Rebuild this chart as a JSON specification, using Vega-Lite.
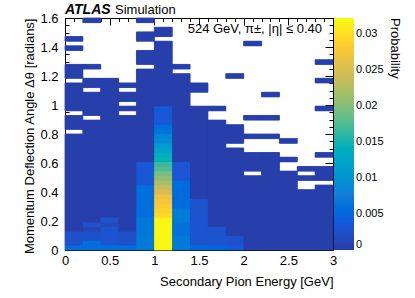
{
  "$schema": "https://vega.github.io/schema/vega-lite/v6.json",
  "width": 268,
  "height": 232,
  "autosize": {"type": "none"},
  "padding": {"left": 65, "top": 18, "right": 82, "bottom": 48},
  "background": "white",
  "config": {
    "font": "Liberation Sans",
    "view": {"stroke": "black", "strokeWidth": 1},
    "axis": {"domainColor": "black", "tickColor": "black", "labelColor": "black", "titleColor": "black", "grid": false, "labelFont": "Liberation Sans", "titleFont": "Liberation Sans", "labelFontSize": 13, "titleFontSize": 13, "titleFontWeight": "normal", "minExtent": 0, "labelFlush": false, "tickWidth": 1, "domainWidth": 1},
    "legend": {"orient": "right", "offset": 0, "padding": 0, "gradientLength": 232, "gradientThickness": 20, "gradientStrokeWidth": 0, "labelFontSize": 11, "labelOffset": 4, "labelFont": "Liberation Sans", "labelColor": "black", "titleFont": "Liberation Sans", "titleFontSize": 13, "titleFontWeight": "normal", "titleColor": "black", "titleOrient": "right", "titleAngle": 270, "titleAnchor": "end", "titlePadding": 4}
  },
  "datasets": {
    "h": [
      {"e0":0,"e1":0.2,"t0":0,"t1":0.032,"p":0.0058},
      {"e0":0,"e1":0.2,"t0":0.032,"t1":0.128,"p":0.0026},
      {"e0":0,"e1":0.2,"t0":0.128,"t1":0.8,"p":0.0003},
      {"e0":0,"e1":0.2,"t0":0.832,"t1":0.928,"p":0.0003},
      {"e0":0,"e1":0.2,"t0":0.96,"t1":1.152,"p":0.0003},
      {"e0":0,"e1":0.2,"t0":1.184,"t1":1.28,"p":0.0003},
      {"e0":0,"e1":0.2,"t0":1.376,"t1":1.408,"p":0.0003},
      {"e0":0,"e1":0.2,"t0":1.44,"t1":1.472,"p":0.0003},
      {"e0":0.2,"e1":0.4,"t0":0,"t1":0.064,"p":0.0058},
      {"e0":0.2,"e1":0.4,"t0":0.064,"t1":0.128,"p":0.0028},
      {"e0":0.2,"e1":0.4,"t0":0.128,"t1":0.16,"p":0.0012},
      {"e0":0.2,"e1":0.4,"t0":0.16,"t1":0.192,"p":0.0028},
      {"e0":0.2,"e1":0.4,"t0":0.192,"t1":0.896,"p":0.0003},
      {"e0":0.2,"e1":0.4,"t0":0.928,"t1":1.088,"p":0.0003},
      {"e0":0.2,"e1":0.4,"t0":1.12,"t1":1.184,"p":0.0003},
      {"e0":0.2,"e1":0.4,"t0":1.248,"t1":1.28,"p":0.0003},
      {"e0":0.2,"e1":0.4,"t0":1.568,"t1":1.6,"p":0.0003},
      {"e0":0.4,"e1":0.6,"t0":0,"t1":0.032,"p":0.0058},
      {"e0":0.4,"e1":0.6,"t0":0.032,"t1":0.16,"p":0.003},
      {"e0":0.4,"e1":0.6,"t0":0.16,"t1":0.192,"p":0.0016},
      {"e0":0.4,"e1":0.6,"t0":0.192,"t1":0.224,"p":0.003},
      {"e0":0.4,"e1":0.6,"t0":0.224,"t1":1.184,"p":0.0003},
      {"e0":0.6,"e1":0.8,"t0":0,"t1":0.032,"p":0.0058},
      {"e0":0.6,"e1":0.8,"t0":0.032,"t1":0.128,"p":0.0026},
      {"e0":0.6,"e1":0.8,"t0":0.128,"t1":0.928,"p":0.0003},
      {"e0":0.6,"e1":0.8,"t0":0.96,"t1":0.992,"p":0.0003},
      {"e0":0.6,"e1":0.8,"t0":1.024,"t1":1.088,"p":0.0003},
      {"e0":0.6,"e1":0.8,"t0":1.12,"t1":1.152,"p":0.0003},
      {"e0":0.8,"e1":1,"t0":0,"t1":0.096,"p":0.0074},
      {"e0":0.8,"e1":1,"t0":0.096,"t1":0.224,"p":0.0068},
      {"e0":0.8,"e1":1,"t0":0.224,"t1":0.448,"p":0.0058},
      {"e0":0.8,"e1":1,"t0":0.448,"t1":0.608,"p":0.0034},
      {"e0":0.8,"e1":1,"t0":0.608,"t1":1.248,"p":0.0003},
      {"e0":0.8,"e1":1,"t0":1.28,"t1":1.376,"p":0.0003},
      {"e0":0.8,"e1":1,"t0":1.44,"t1":1.504,"p":0.0003},
      {"e0":0.8,"e1":1,"t0":1.568,"t1":1.6,"p":0.0003},
      {"e0":1,"e1":1.2,"t0":0,"t1":0.224,"p":0.0318},
      {"e0":1,"e1":1.2,"t0":0.224,"t1":0.256,"p":0.0296},
      {"e0":1,"e1":1.2,"t0":0.256,"t1":0.288,"p":0.029},
      {"e0":1,"e1":1.2,"t0":0.288,"t1":0.32,"p":0.0282},
      {"e0":1,"e1":1.2,"t0":0.32,"t1":0.352,"p":0.0275},
      {"e0":1,"e1":1.2,"t0":0.352,"t1":0.384,"p":0.0266},
      {"e0":1,"e1":1.2,"t0":0.384,"t1":0.416,"p":0.0248},
      {"e0":1,"e1":1.2,"t0":0.416,"t1":0.448,"p":0.0238},
      {"e0":1,"e1":1.2,"t0":0.448,"t1":0.48,"p":0.022},
      {"e0":1,"e1":1.2,"t0":0.48,"t1":0.512,"p":0.0205},
      {"e0":1,"e1":1.2,"t0":0.512,"t1":0.544,"p":0.0193},
      {"e0":1,"e1":1.2,"t0":0.544,"t1":0.576,"p":0.0175},
      {"e0":1,"e1":1.2,"t0":0.576,"t1":0.608,"p":0.0165},
      {"e0":1,"e1":1.2,"t0":0.608,"t1":0.64,"p":0.015},
      {"e0":1,"e1":1.2,"t0":0.64,"t1":0.672,"p":0.0142},
      {"e0":1,"e1":1.2,"t0":0.672,"t1":0.704,"p":0.012},
      {"e0":1,"e1":1.2,"t0":0.704,"t1":0.736,"p":0.0112},
      {"e0":1,"e1":1.2,"t0":0.736,"t1":0.768,"p":0.0092},
      {"e0":1,"e1":1.2,"t0":0.768,"t1":0.8,"p":0.0086},
      {"e0":1,"e1":1.2,"t0":0.8,"t1":0.832,"p":0.0068},
      {"e0":1,"e1":1.2,"t0":0.832,"t1":0.864,"p":0.0058},
      {"e0":1,"e1":1.2,"t0":0.864,"t1":0.992,"p":0.0035},
      {"e0":1,"e1":1.2,"t0":0.992,"t1":1.44,"p":0.0003},
      {"e0":1,"e1":1.2,"t0":1.472,"t1":1.536,"p":0.0003},
      {"e0":1.2,"e1":1.4,"t0":0,"t1":0.096,"p":0.0072},
      {"e0":1.2,"e1":1.4,"t0":0.096,"t1":0.192,"p":0.0064},
      {"e0":1.2,"e1":1.4,"t0":0.192,"t1":0.288,"p":0.0074},
      {"e0":1.2,"e1":1.4,"t0":0.288,"t1":0.48,"p":0.0056},
      {"e0":1.2,"e1":1.4,"t0":0.48,"t1":0.608,"p":0.0032},
      {"e0":1.2,"e1":1.4,"t0":0.608,"t1":1.216,"p":0.0003},
      {"e0":1.2,"e1":1.4,"t0":1.248,"t1":1.28,"p":0.0003},
      {"e0":1.4,"e1":1.6,"t0":0,"t1":0.032,"p":0.0055},
      {"e0":1.4,"e1":1.6,"t0":0.032,"t1":0.352,"p":0.003},
      {"e0":1.4,"e1":1.6,"t0":0.352,"t1":0.992,"p":0.0003},
      {"e0":1.4,"e1":1.6,"t0":1.088,"t1":1.152,"p":0.0003},
      {"e0":1.6,"e1":1.8,"t0":0,"t1":0.032,"p":0.005},
      {"e0":1.6,"e1":1.8,"t0":0.032,"t1":0.16,"p":0.003},
      {"e0":1.6,"e1":1.8,"t0":0.16,"t1":0.896,"p":0.0003},
      {"e0":1.6,"e1":1.8,"t0":0.96,"t1":0.992,"p":0.0003},
      {"e0":1.8,"e1":2,"t0":0,"t1":0.032,"p":0.0038},
      {"e0":1.8,"e1":2,"t0":0.032,"t1":0.096,"p":0.0026},
      {"e0":1.8,"e1":2,"t0":0.096,"t1":0.704,"p":0.0003},
      {"e0":1.8,"e1":2,"t0":0.736,"t1":0.864,"p":0.0003},
      {"e0":1.8,"e1":2,"t0":1.184,"t1":1.216,"p":0.0003},
      {"e0":2,"e1":2.2,"t0":0,"t1":0.512,"p":0.0003},
      {"e0":2,"e1":2.2,"t0":0.544,"t1":0.672,"p":0.0003},
      {"e0":2,"e1":2.2,"t0":0.768,"t1":0.8,"p":0.0003},
      {"e0":2,"e1":2.2,"t0":0.896,"t1":0.928,"p":0.0003},
      {"e0":2,"e1":2.2,"t0":1.408,"t1":1.44,"p":0.0003},
      {"e0":2.2,"e1":2.4,"t0":0,"t1":0.672,"p":0.0003},
      {"e0":2.2,"e1":2.4,"t0":0.768,"t1":0.8,"p":0.0003},
      {"e0":2.2,"e1":2.4,"t0":0.896,"t1":0.928,"p":0.0003},
      {"e0":2.2,"e1":2.4,"t0":1.056,"t1":1.088,"p":0.0003},
      {"e0":2.4,"e1":2.6,"t0":0,"t1":0.544,"p":0.0003},
      {"e0":2.4,"e1":2.6,"t0":0.608,"t1":0.64,"p":0.0003},
      {"e0":2.4,"e1":2.6,"t0":0.736,"t1":0.768,"p":0.0003},
      {"e0":2.6,"e1":2.8,"t0":0,"t1":0.416,"p":0.0003},
      {"e0":2.6,"e1":2.8,"t0":0.48,"t1":0.512,"p":0.0003},
      {"e0":2.6,"e1":2.8,"t0":0.544,"t1":0.576,"p":0.0003},
      {"e0":2.8,"e1":3,"t0":0,"t1":0.448,"p":0.0003},
      {"e0":2.8,"e1":3,"t0":0.48,"t1":0.576,"p":0.0003},
      {"e0":2.8,"e1":3,"t0":0.64,"t1":0.672,"p":0.0003},
      {"e0":2.8,"e1":3,"t0":0.96,"t1":0.992,"p":0.0003},
      {"e0":2.8,"e1":3,"t0":1.152,"t1":1.184,"p":0.0003},
      {"e0":2.8,"e1":3,"t0":1.28,"t1":1.312,"p":0.0003}
    ]
  },
  "resolve": {"axis": {"x": "independent", "y": "independent"}},
  "layer": [
    {
      "data": {"name": "h"},
      "mark": {"type": "rect", "strokeWidth": 0.8, "stroke": {"expr": "scale('color', datum.p)"}},
      "encoding": {
        "x": {"field": "e0", "type": "quantitative", "scale": {"domain": [0, 3], "nice": false, "zero": false},
              "axis": {"orient": "bottom", "values": [0, 0.5, 1, 1.5, 2, 2.5, 3], "format": "~g", "tickSize": -7, "labelPadding": 11, "title": "Secondary Pion Energy [GeV]", "titleAnchor": "end", "titlePadding": 8}},
        "x2": {"field": "e1"},
        "y": {"field": "t0", "type": "quantitative", "scale": {"domain": [0, 1.6], "nice": false, "zero": false},
              "axis": {"orient": "left", "values": [0, 0.2, 0.4, 0.6, 0.8, 1, 1.2, 1.4, 1.6], "format": "~g", "tickSize": -8, "labelPadding": 15, "title": "Momentum Deflection Angle Δθ [radians]", "titleAnchor": "end", "titlePadding": 3}},
        "y2": {"field": "t1"},
        "color": {"field": "p", "type": "quantitative", "title": "Probability",
                  "scale": {"domain": [0, 0.0322], "range": ["#273da7", "#0f5cdd", "#1481d6", "#06a4ca", "#2eb7a4", "#87bf77", "#d1bb59", "#fec832", "#f9fb0e"]},
                  "legend": {"values": [0, 0.005, 0.01, 0.015, 0.02, 0.025, 0.03], "format": ".3~f", "direction": "vertical"}}
      }
    },
    {
      "data": {"name": "h"},
      "mark": {"type": "rect"},
      "encoding": {
        "x": {"field": "e0", "type": "quantitative", "axis": null},
        "x2": {"field": "e1"},
        "y": {"field": "t0", "type": "quantitative", "axis": null},
        "y2": {"field": "t1"},
        "color": {"field": "p", "type": "quantitative", "legend": null}
      }
    },
    {
      "data": {"values": [{}]},
      "mark": {"type": "point", "opacity": 0},
      "encoding": {
        "x": {"datum": 0, "type": "quantitative", "axis": {"orient": "bottom", "values": [0.1,0.2,0.3,0.4,0.6,0.7,0.8,0.9,1.1,1.2,1.3,1.4,1.6,1.7,1.8,1.9,2.1,2.2,2.3,2.4,2.6,2.7,2.8,2.9], "labels": false, "domain": false, "title": null, "tickSize": -3.5}},
        "y": {"datum": 0, "type": "quantitative", "axis": {"orient": "left", "values": [0.05,0.1,0.15,0.25,0.3,0.35,0.45,0.5,0.55,0.65,0.7,0.75,0.85,0.9,0.95,1.05,1.1,1.15,1.25,1.3,1.35,1.45,1.5,1.55], "labels": false, "domain": false, "title": null, "tickSize": -4}}
      }
    },
    {
      "data": {"values": [{}]},
      "mark": {"type": "point", "opacity": 0},
      "encoding": {
        "x": {"datum": 0, "type": "quantitative", "axis": {"orient": "top", "values": [0, 0.5, 1, 1.5, 2, 2.5, 3], "labels": false, "title": null, "tickSize": -7}},
        "y": {"datum": 0, "type": "quantitative", "axis": {"orient": "right", "values": [0, 0.2, 0.4, 0.6, 0.8, 1, 1.2, 1.4, 1.6], "labels": false, "title": null, "tickSize": -8}}
      }
    },
    {
      "data": {"values": [{}]},
      "mark": {"type": "point", "opacity": 0},
      "encoding": {
        "x": {"datum": 0, "type": "quantitative", "axis": {"orient": "top", "values": [0.1,0.2,0.3,0.4,0.6,0.7,0.8,0.9,1.1,1.2,1.3,1.4,1.6,1.7,1.8,1.9,2.1,2.2,2.3,2.4,2.6,2.7,2.8,2.9], "labels": false, "domain": false, "title": null, "tickSize": -3.5}},
        "y": {"datum": 0, "type": "quantitative", "axis": {"orient": "right", "values": [0.05,0.1,0.15,0.25,0.3,0.35,0.45,0.5,0.55,0.65,0.7,0.75,0.85,0.9,0.95,1.05,1.1,1.15,1.25,1.3,1.35,1.45,1.5,1.55], "labels": false, "domain": false, "title": null, "tickSize": -4}}
      }
    },
    {
      "data": {"values": [{}]},
      "mark": {"type": "text", "text": "ATLAS", "font": "Liberation Sans", "fontStyle": "italic", "fontWeight": "bold", "fontSize": 14, "align": "left", "baseline": "alphabetic", "dy": -4, "color": "black"},
      "encoding": {"x": {"datum": 0, "type": "quantitative", "axis": null}, "y": {"datum": 1.6, "type": "quantitative", "axis": null}}
    },
    {
      "data": {"values": [{}]},
      "mark": {"type": "text", "text": "Simulation", "font": "Liberation Sans", "fontSize": 13, "align": "left", "baseline": "alphabetic", "dx": 50, "dy": -4, "color": "black"},
      "encoding": {"x": {"datum": 0, "type": "quantitative", "axis": null}, "y": {"datum": 1.6, "type": "quantitative", "axis": null}}
    },
    {
      "data": {"values": [{}]},
      "mark": {"type": "text", "text": "524 GeV, π±, |η| ≤ 0.40", "font": "Liberation Sans", "fontSize": 13, "align": "right", "baseline": "alphabetic", "dx": -11, "dy": 15, "color": "black"},
      "encoding": {"x": {"datum": 3, "type": "quantitative", "axis": null}, "y": {"datum": 1.6, "type": "quantitative", "axis": null}}
    }
  ]
}
